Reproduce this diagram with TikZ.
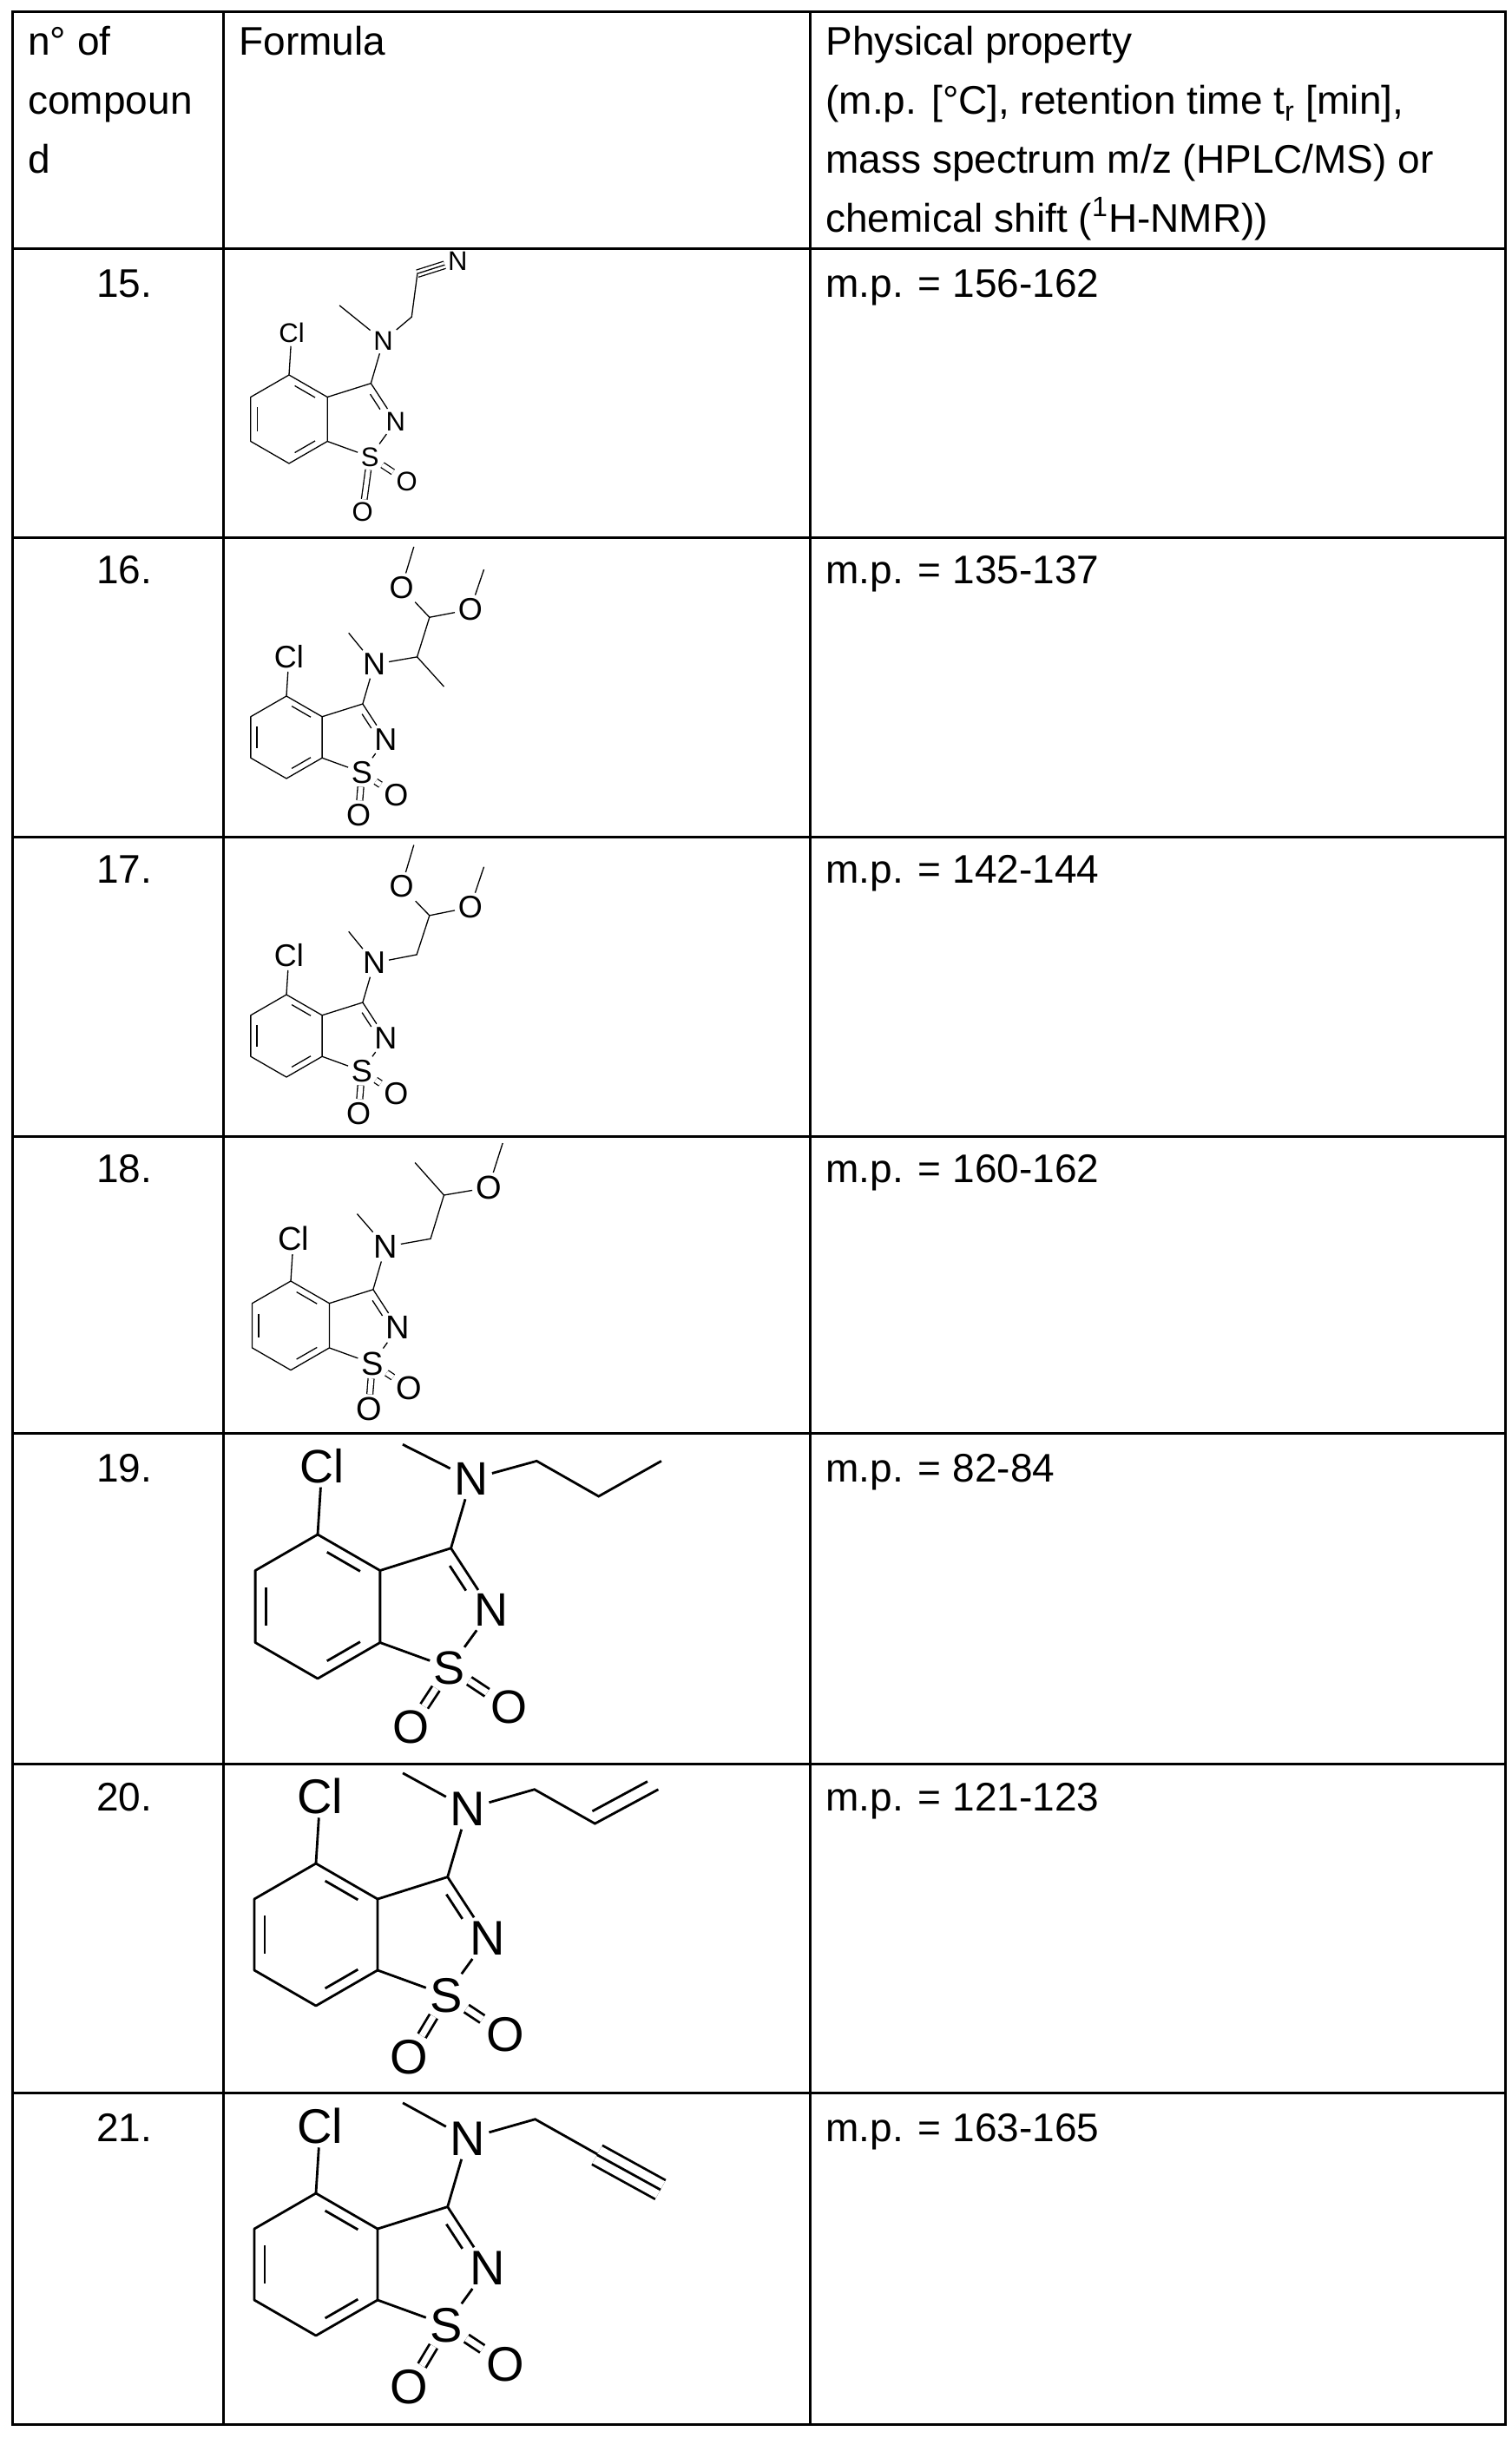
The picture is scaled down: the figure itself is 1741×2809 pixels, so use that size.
\documentclass[tikz,border=0pt]{standalone}
\usepackage{fontspec}
\setmainfont{Liberation Sans}
\usetikzlibrary{calc}
\tikzset{
  txt/.style={font=\fontsize{23}{34}\selectfont, inner sep=0pt},
  grid/.style={line width=1.5pt},
  atom/.style={inner sep=0.16em},
}
\newcommand\core[2]{%
  \coordinate (C4) at (0,0); \coordinate (C5) at (-0.866,0.5);
  \coordinate (C6) at (-0.866,1.5); \coordinate (C7) at (0,2);
  \coordinate (C7a) at (0.866,1.5); \coordinate (C3a) at (0.866,0.5);
  \coordinate (C3) at (1.85,0.19); \coordinate (ctr) at (0,1);
  \coordinate (c5) at (1.5,1.0);
  \node[atom] (N2) at (2.41,1.05) {N};
  \node[atom] (S) at (1.83,1.85) {S};
  \node[atom] (OL) at (#1) {O};
  \node[atom] (OR) at (2.66,2.4) {O};
  \node[atom] (Na) at (2.13,-0.77) {N};
  \node[atom] (Cl) at (0.06,-0.95) {Cl};
  \draw[line join=round] (C4)--(C5)--(C6)--(C7)--(C7a)--(C3a)--cycle;
  \draw ($(C4)!.18!(C3a)!.17!(ctr)$)--($(C4)!.82!(C3a)!.17!(ctr)$);
  \draw ($(C5)!.18!(C6)!.17!(ctr)$)--($(C5)!.82!(C6)!.17!(ctr)$);
  \draw ($(C7)!.18!(C7a)!.17!(ctr)$)--($(C7)!.82!(C7a)!.17!(ctr)$);
  \draw[line join=round] (C3a)--(C3)--(N2)--(S)--(C7a);
  \draw ($(C3)!.12!(N2)!.2!(c5)$)--($(C3)!.62!(N2)!.2!(c5)$);
  \draw (C3)--(Na);
  \draw (Cl)--(C4);
  \draw[double distance=#2] (S)--(OL);
  \draw[double distance=#2] (S)--(OR);
}
\begin{document}
\begin{tikzpicture}[x=0.5pt,y=-0.5pt]
\useasboundingbox (0,0) rectangle (1741,2809);
% table
\draw[grid] (14,14) rectangle (1734,2793);
\draw[grid] (257,14)--(257,2793);
\draw[grid] (933,14)--(933,2793);
\foreach \yy in {287,619,964,1309,1651,2032,2411}{\draw[grid] (14,\yy)--(1734,\yy);}
% header
\node[txt,anchor=base west] (h1) at (32,64) {n° of};
\node[txt,anchor=base west] (h2) at (32,132) {compoun};
\node[txt,anchor=base west] (h3) at (32,200) {d};
\node[txt,anchor=base west] (h4) at (275,64) {Formula};
\node[txt,anchor=base west] (p1) at (951,64) {Physical property};
\node[txt,anchor=base west] (p2) at (951,132) {(m.p. [°C], retention time t\textsubscript{r} [min],};
\node[txt,anchor=base west] (p3) at (951,200) {mass spectrum m/z (HPLC/MS) or};
\node[txt,anchor=base west] (p4) at (951,268) {chemical shift (\textsuperscript{1}H-NMR))};
% rows
\foreach \n/\yy/\mp in {15/343/156-162,16/672/135-137,17/1017/142-144,18/1362/160-162,19/1707/82-84,20/2086/121-123,21/2467/163-165}{
  \node[txt,anchor=base] (n\n) at (143,\yy) {\n.};
  \node[txt,anchor=base west] (m\n) at (951,\yy) {m.p. = \mp};
}
% 15
\begin{scope}[shift={(333,432)},x=25.5pt,y=-25.5pt,line width=0.65pt,atom/.append style={font=\fontsize{15.5}{16}\selectfont}]
\core{1.66,3.1}{2.6pt}
\coordinate (Me) at (1.14,-1.57); \coordinate (A) at (2.77,-1.31);
\coordinate (B) at (2.9,-2.29); \node[atom] (Nn) at (3.81,-2.58) {N};
\draw (Na)--(Me); \draw (Na)--(A)--(B);
\draw[double distance=3.6pt] (B)--(Nn); \draw (B)--(Nn);
\end{scope}
% 16
\begin{scope}[shift={(330,802)},x=23.75pt,y=-23.75pt,line width=0.65pt,atom/.append style={font=\fontsize{18}{19}\selectfont}]
\core{1.75,2.88}{2.8pt}
\coordinate (Me) at (1.51,-1.53); \coordinate (A) at (3.17,-0.95);
\coordinate (Me2) at (3.82,-0.23); \coordinate (B) at (3.47,-1.91);
\node[atom] (O1) at (2.79,-2.63) {O}; \coordinate (E1) at (3.09,-3.62);
\node[atom] (O2) at (4.46,-2.1) {O}; \coordinate (E2) at (4.79,-3.07);
\draw (Na)--(Me); \draw (Na)--(A)--(B)--(O1)--(E1); \draw (A)--(Me2); \draw (B)--(O2)--(E2);
\end{scope}
% 17
\begin{scope}[shift={(330,1146)},x=23.75pt,y=-23.75pt,line width=0.65pt,atom/.append style={font=\fontsize{18}{19}\selectfont}]
\core{1.75,2.88}{2.8pt}
\coordinate (Me) at (1.51,-1.53); \coordinate (A) at (3.16,-0.97);
\coordinate (B) at (3.47,-1.92);
\node[atom] (O1) at (2.79,-2.62) {O}; \coordinate (E1) at (3.09,-3.63);
\node[atom] (O2) at (4.46,-2.12) {O}; \coordinate (E2) at (4.79,-3.1);
\draw (Na)--(Me); \draw (Na)--(A)--(B)--(O1)--(E1); \draw (B)--(O2)--(E2);
\end{scope}
% 18
\begin{scope}[shift={(335,1476)},x=25.65pt,y=-25.65pt,line width=0.65pt,atom/.append style={font=\fontsize{19}{20}\selectfont}]
\core{1.75,2.88}{2.8pt}
\coordinate (Me) at (1.49,-1.51); \coordinate (A) at (3.14,-0.95);
\coordinate (B) at (3.44,-1.93); \coordinate (Me2) at (2.79,-2.66);
\node[atom] (O1) at (4.44,-2.1) {O}; \coordinate (E1) at (4.76,-3.1);
\draw (Na)--(Me); \draw (Na)--(A)--(B)--(Me2); \draw (B)--(O1)--(E1);
\end{scope}
% 19
\begin{scope}[shift={(366,1768)},x=41.5pt,y=-41.5pt,line width=1.4pt,atom/.append style={font=\fontsize{27}{28}\selectfont}]
\core{1.29,2.67}{3.6pt}
\coordinate (Me) at (1.18,-1.25); \coordinate (A) at (3.04,-1.02);
\coordinate (B) at (3.9,-0.53); \coordinate (C) at (4.77,-1.02);
\draw (Na)--(Me); \draw[line join=miter] (Na)--(A)--(B)--(C);
\end{scope}
% 20
\begin{scope}[shift={(364,2147)},x=41pt,y=-41pt,line width=1.4pt,atom/.append style={font=\fontsize{28}{29}\selectfont}]
\core{1.31,2.72}{3.6pt}
\coordinate (Me) at (1.22,-1.27); \coordinate (A) at (3.07,-1.04);
\coordinate (B) at (3.92,-0.56); \coordinate (C) at (4.81,-1.04);
\draw (Na)--(Me); \draw (Na)--(A)--(B)--(C);
\draw ($(B)!.05!(C)!7pt!90:(C)$)--($(B)!.92!(C)!7pt!-90:(B)$);
\end{scope}
% 21
\begin{scope}[shift={(364,2527)},x=41pt,y=-41pt,line width=1.4pt,atom/.append style={font=\fontsize{28}{29}\selectfont}]
\core{1.31,2.72}{3.6pt}
\coordinate (Me) at (1.22,-1.27); \coordinate (A) at (3.08,-1.04);
\coordinate (B) at (3.95,-0.54); \coordinate (C) at (4.84,-0.05);
\draw (Na)--(Me); \draw (Na)--(A)--(C);
\draw[double distance=11pt] (B)--(C);
\draw (B)--(C);
\end{scope}
\end{tikzpicture}
\end{document}
